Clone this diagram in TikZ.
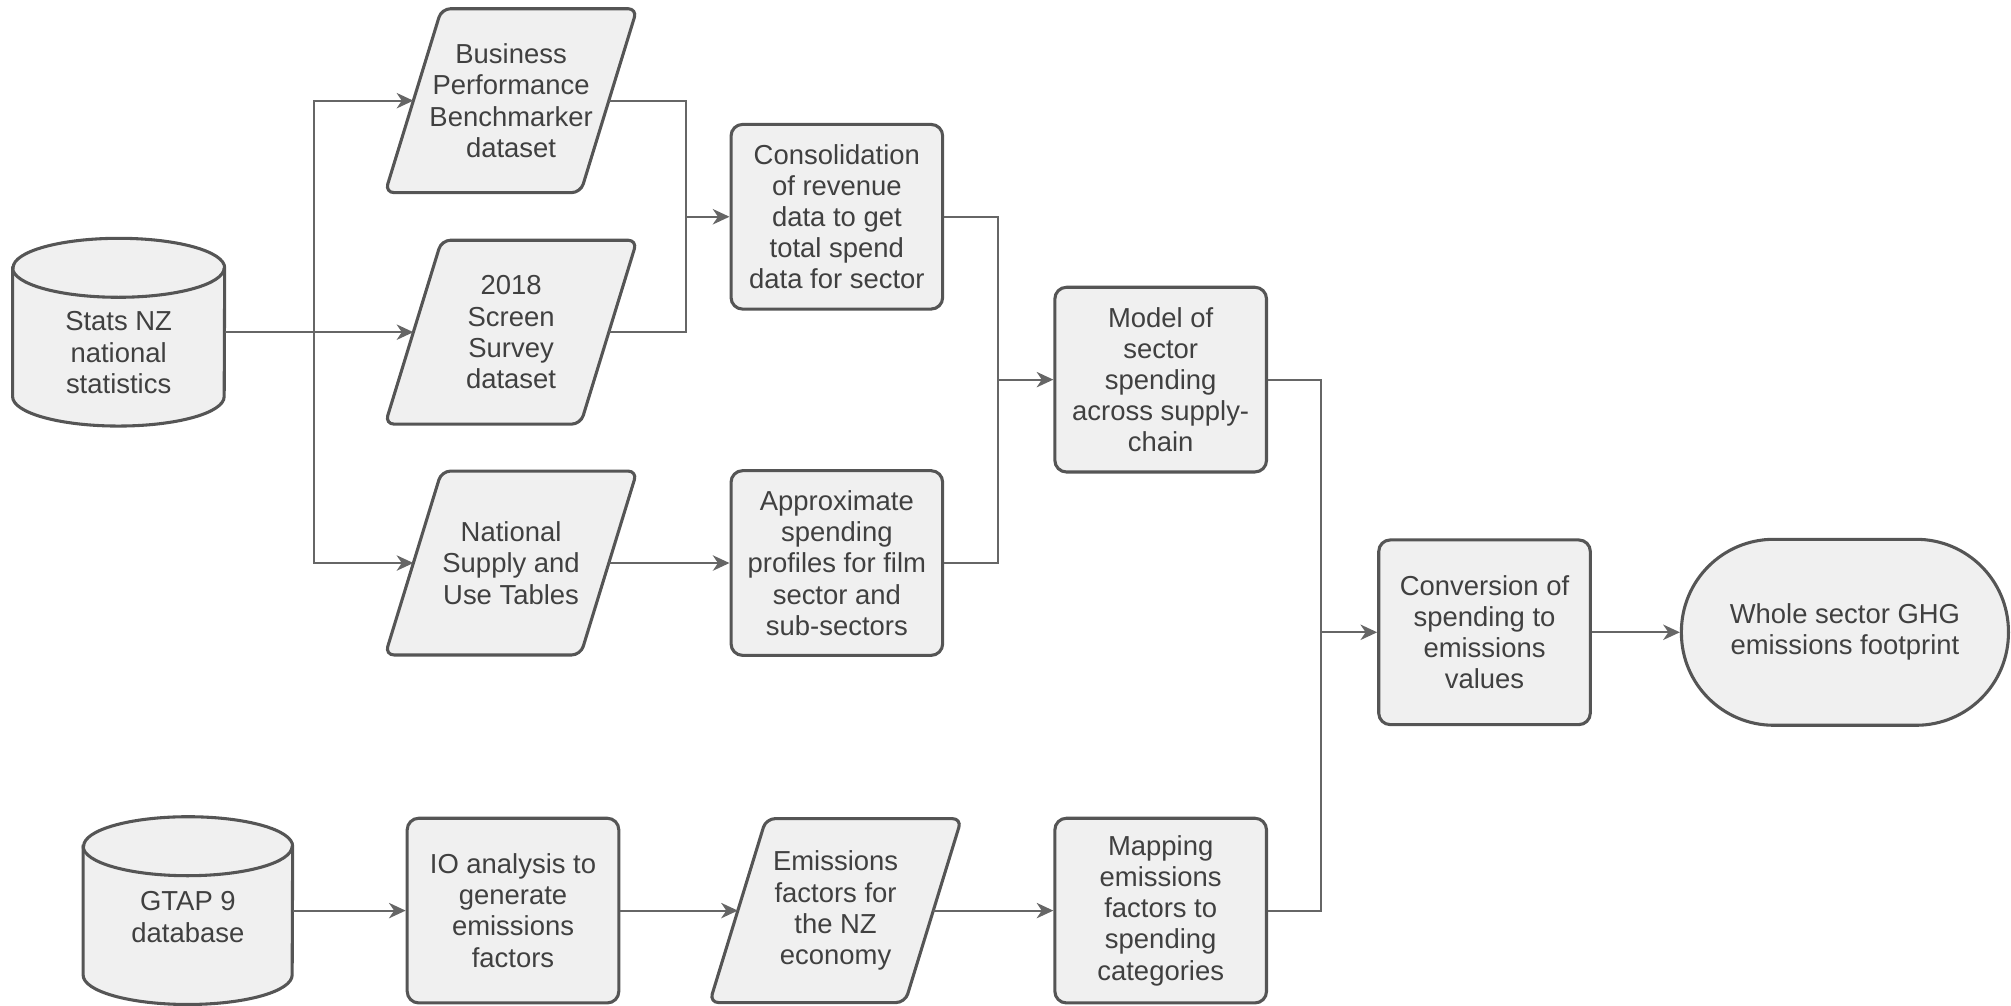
\documentclass[tikz,border=0pt]{standalone}
\usepackage{fontspec}
\setmainfont{Liberation Sans}
\usetikzlibrary{arrows.meta,backgrounds}

\definecolor{shapefill}{HTML}{F0F0F0}
\definecolor{shapeedge}{HTML}{555555}
\definecolor{linkgray}{HTML}{666666}
\definecolor{labelgray}{HTML}{404040}

% slanted data shape drawn around an invisible holder node
\newcommand{\slantbox}[1]{%
  \path[outline, rounded corners=7pt] (#1.south) -- ([xshift=-22pt]#1.south west)
    -- ([xshift=22pt]#1.north west) -- ([xshift=22pt]#1.north east)
    -- ([xshift=-22pt]#1.south east) -- cycle;}

% database drum drawn around an invisible holder node; #2 = half width
\newcommand{\drumaround}[2]{%
  \path[outline] ([yshift=-23pt]#1.north west) -- ([yshift=23pt]#1.south west)
    arc[start angle=180, end angle=360, x radius=#2, y radius=23pt]
    -- ([yshift=-23pt]#1.north east)
    arc[start angle=0, end angle=180, x radius=#2, y radius=23pt] -- cycle;
  \draw[draw=shapeedge, line width=2.4pt] ([yshift=-23pt]#1.north west)
    arc[start angle=180, end angle=360, x radius=#2, y radius=23pt];}

\begin{document}
\begin{tikzpicture}[x=1pt, y=1pt,
  every node/.style={font=\fontsize{21.4}{24.3}\selectfont, text=labelgray,
    align=center, inner sep=0pt},
  outline/.style={draw=shapeedge, line width=2.4pt, fill=shapefill},
  procbox/.style={outline, rounded corners=9pt, minimum width=165pt,
    minimum height=144pt},
  slantholder/.style={minimum width=152pt, minimum height=143pt},
  drumholder/.style={minimum width=#1, minimum height=146pt},
  endbox/.style={outline, rounded corners=72pt, minimum width=255pt,
    minimum height=145pt},
  link/.style={draw=linkgray, line width=1.7pt},
  flow/.style={link, -{Stealth[length=13pt, width=12pt, inset=4pt]}}
]
\useasboundingbox (0,0) rectangle (1568,-784);

% --- upper chain: spend data ---
\node[drumholder=165pt] (stats) at (92.5,-259) {};
\node (statstext) at (92.5,-275) {Stats NZ\\national\\statistics};

\node[slantholder] (bpb) at (398.5,-78.5) {Business\\Performance\\Benchmarker\\dataset};
\node[slantholder] (screen) at (398.5,-259) {2018\\Screen\\Survey\\dataset};
\node[slantholder] (sut) at (398.5,-439) {National\\Supply and\\Use Tables};

\node[procbox] (consol) at (652.5,-169) {Consolidation\\of revenue\\data to get\\total spend\\data for sector};
\node[procbox] (approx) at (652.5,-439) {Approximate\\spending\\profiles for film\\sector and\\sub-sectors};
\node[procbox] (model) at (905,-296) {Model of\\sector\\spending\\across supply-\\chain};
\node[procbox] (conv) at (1157.5,-493) {Conversion of\\spending to\\emissions\\values};
\node[endbox] (ghg) at (1438.5,-493) {Whole sector GHG\\emissions footprint};

% --- lower chain: emissions factors ---
\node[drumholder=163pt] (gtap) at (146.5,-710) {};
\node (gtaptext) at (146.5,-715) {GTAP 9\\database};
\node[procbox] (io) at (400,-710) {IO analysis to\\generate\\emissions\\factors};
\node[slantholder] (efac) at (651.5,-710) {Emissions\\factors for\\the NZ\\economy};
\node[procbox] (mapping) at (905,-710) {Mapping\\emissions\\factors to\\spending\\categories};

\begin{scope}[on background layer]
  \drumaround{stats}{82.5pt}
  \drumaround{gtap}{81.5pt}
  \slantbox{bpb}
  \slantbox{screen}
  \slantbox{sut}
  \slantbox{efac}
\end{scope}

% --- connectors ---
\coordinate (split) at (245,-259);
\coordinate (join1) at (535,-169);
\coordinate (join2) at (778,-296);
\coordinate (join3) at (1030,-493);

\draw[flow] (stats.east) -- (screen.west);
\draw[flow] (split) |- (bpb.west);
\draw[flow] (split) |- (sut.west);

\draw[link] (bpb.east) -| (join1) |- (screen.east);
\draw[flow] (join1) -- (consol.west);
\draw[flow] (sut.east) -- (approx.west);

\draw[link] (consol.east) -| (join2) |- (approx.east);
\draw[flow] (join2) -- (model.west);

\draw[link] (model.east) -| (join3) |- (mapping.east);
\draw[flow] (join3) -- (conv.west);
\draw[flow] (conv.east) -- (ghg.west);

\draw[flow] (gtap.east) -- (io.west);
\draw[flow] (io.east) -- (efac.west);
\draw[flow] (efac.east) -- (mapping.west);
\end{tikzpicture}
\end{document}
